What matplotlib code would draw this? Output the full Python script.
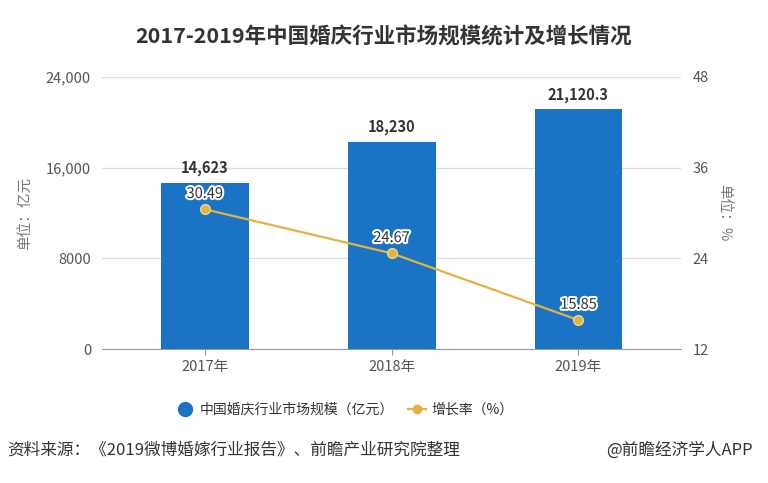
import matplotlib
matplotlib.use("Agg")
import matplotlib.pyplot as plt
import matplotlib.patheffects as pe
from matplotlib.lines import Line2D

plt.rcParams['font.family'] = ['Noto Sans CJK SC', 'DejaVu Sans']

years = ['2017年', '2018年', '2019年']
market_size = [14623, 18230, 21120.3]
size_labels = ['14,623', '18,230', '21,120.3']
growth = [30.49, 24.67, 15.85]
growth_labels = ['30.49', '24.67', '15.85']

bar_color = '#1a73c5'
line_color = '#e3b341'

fig = plt.figure(figsize=(7.68, 4.83), dpi=100)
ax = fig.add_axes([0.133, 0.277, 0.754, 0.564])
ax2 = ax.twinx()

x = range(len(years))
ax.bar(x, market_size, width=0.47, color=bar_color, zorder=3)
for i, v in enumerate(market_size):
    ax.annotate(size_labels[i], (i, v), xytext=(0, 5), textcoords='offset points',
                ha='center', va='bottom', fontsize=10.5, fontweight='bold', color='#333333')

ax.set_ylim(0, 24000)
ax.set_yticks([0, 8000, 16000, 24000])
ax.set_yticklabels(['0', '8000', '16,000', '24,000'])
ax.set_xlim(-0.55, 2.55)
ax.set_xticks(list(x))
ax.set_xticklabels(years)
ax.grid(axis='y', color='#dddddd', linewidth=0.9, zorder=0)
ax.set_axisbelow(True)
for s in ['top', 'left', 'right']:
    ax.spines[s].set_visible(False)
ax.spines['bottom'].set_color('#999999')
ax.tick_params(axis='y', length=0, labelsize=10.5, labelcolor='#555555', pad=8)
ax.tick_params(axis='x', length=4, color='#999999', labelsize=10.5, labelcolor='#555555')
ax.set_ylabel('单位：亿元', fontsize=10.5, color='#777777', labelpad=10)

ax2.plot(list(x), growth, color=line_color, linewidth=1.6, marker='o',
         markersize=7, markerfacecolor=line_color, markeredgecolor='#f0d890', zorder=5)
for i, v in enumerate(growth):
    ax2.annotate(growth_labels[i], (i, v), xytext=(0, 6), textcoords='offset points',
                 ha='center', va='bottom', fontsize=10.5, color='#333333',
                 path_effects=[pe.withStroke(linewidth=3, foreground='white')])
ax2.set_ylim(12, 48)
ax2.set_yticks([12, 24, 36, 48])
for s in ['top', 'left', 'right', 'bottom']:
    ax2.spines[s].set_visible(False)
ax2.tick_params(axis='y', length=0, labelsize=10.5, labelcolor='#555555', pad=8)
ax2.set_ylabel('单位：%', fontsize=10.5, color='#777777', rotation=-90, labelpad=16)

fig.text(0.5, 0.923, '2017-2019年中国婚庆行业市场规模统计及增长情况',
         ha='center', va='center', fontsize=15.5, fontweight='bold', color='#333333')

handles = [
    Line2D([], [], linestyle='none', marker='o', markersize=10, color=bar_color),
    Line2D([], [], color=line_color, linewidth=1.6, marker='o', markersize=6),
]
fig.legend(handles, ['中国婚庆行业市场规模（亿元）', '增长率（%）'], loc='center left',
           bbox_to_anchor=(0.213, 0.151), ncol=2, frameon=False, fontsize=10,
           handlelength=1.3, handletextpad=0.4, columnspacing=1.0, labelcolor='#333333')

fig.text(0.01, 0.068, '资料来源：《2019微博婚嫁行业报告》、前瞻产业研究院整理',
         ha='left', va='center', fontsize=12, color='#333333')
fig.text(0.98, 0.068, '@前瞻经济学人APP', ha='right', va='center',
         fontsize=12, color='#333333')

fig.savefig('out.png', dpi=100)
